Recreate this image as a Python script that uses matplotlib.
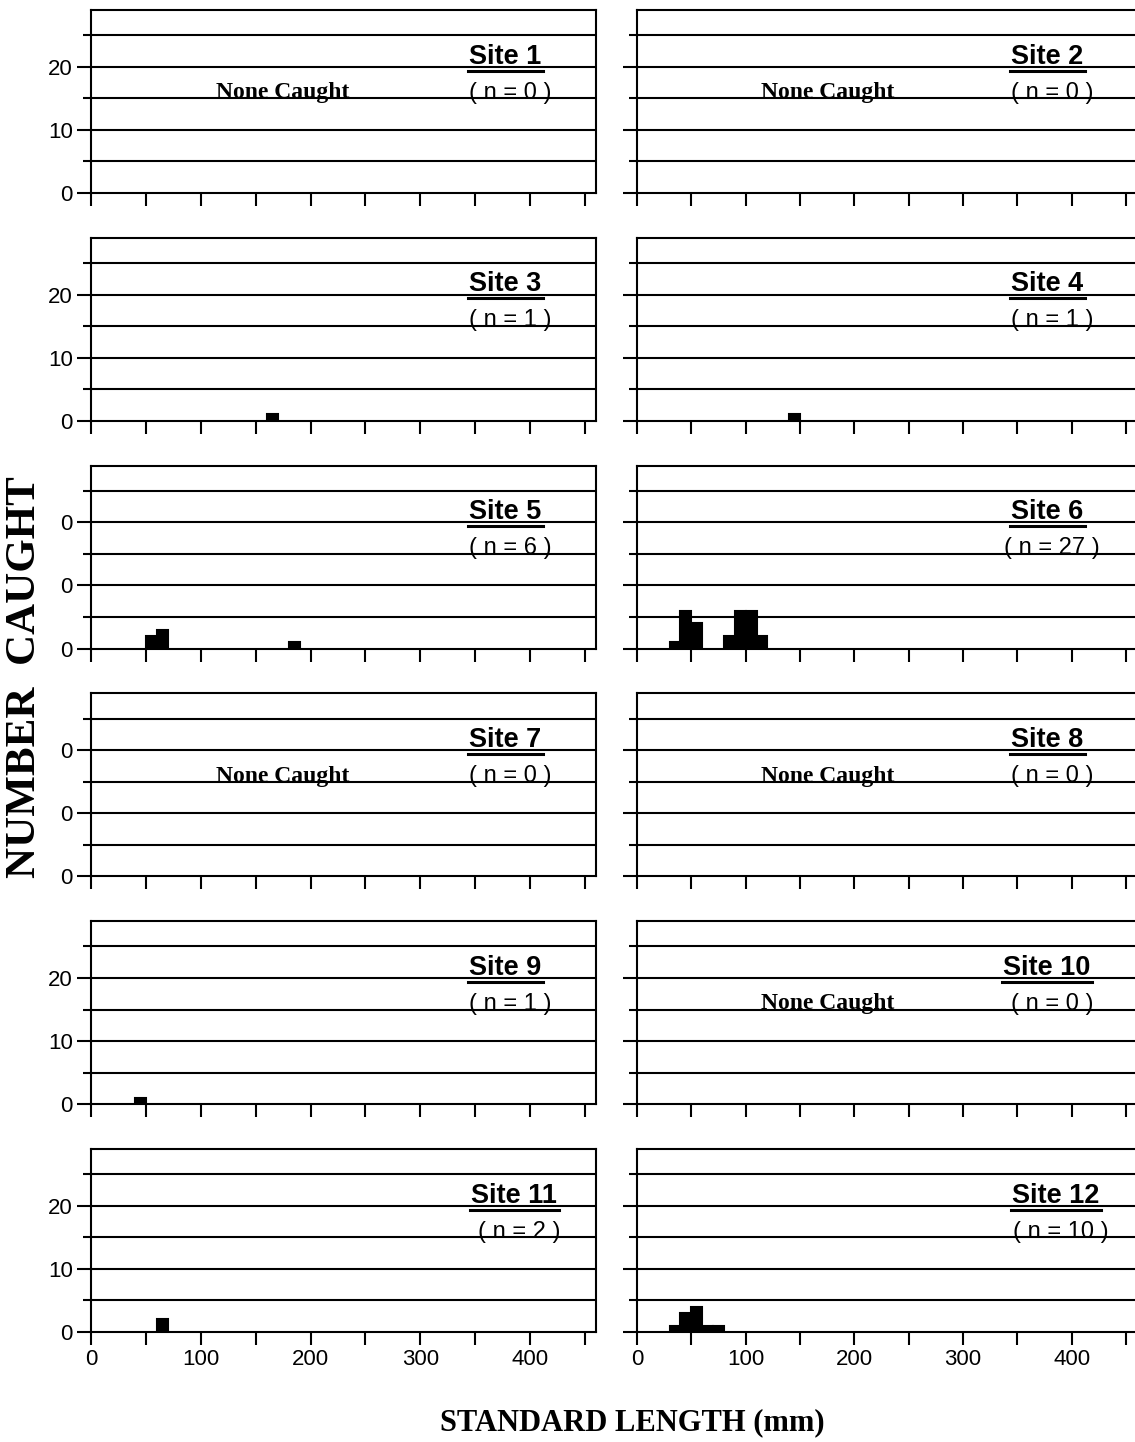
import matplotlib
matplotlib.use('Agg')
import matplotlib.pyplot as plt
from matplotlib.lines import Line2D

# length-frequency data, 10 mm bins (left edge of each bin)
site_ids = [1, 2, 3, 4, 5, 6, 7, 8, 9, 10, 11, 12]
n_caught = [0, 0, 1, 1, 6, 27, 0, 0, 1, 0, 2, 10]
bin_left = [[], [], [160], [140], [50, 60, 180],
            [30, 40, 50, 80, 90, 100, 110],
            [], [], [40], [], [60], [30, 40, 50, 60, 70]]
bin_count = [[], [], [1], [1], [2, 3, 1],
             [1, 6, 4, 2, 6, 6, 2],
             [], [], [1], [], [2], [1, 3, 4, 1, 1]]
bin_width = 10
ytick_vals = [0, 10, 20]
ytick_text = ['0', '10', '20']
ytick_text_mid = ['0', '0', '0']   # rows 3 and 4 print only zeros
xtick_vals = [0, 100, 200, 300, 400]

SANS = 'Liberation Sans'
SERIF = 'Liberation Serif'

W, H = 1135, 1442
fig = plt.figure(figsize=(W / 100, H / 100), dpi=100)

titles = []
for i, site in enumerate(site_ids):
    row, col = divmod(i, 2)
    top = 10 + row * 227.8
    x0, x1 = (91, 596) if col == 0 else (637, 1137)
    ax = fig.add_axes([x0 / W, 1 - (top + 183) / H, (x1 - x0) / W, 183 / H])
    ax.set_xlim(0, 460)
    ax.set_ylim(0, 29)

    for y in [5, 10, 15, 20, 25]:
        ax.axhline(y, color='k', lw=1.5, zorder=1)

    if bin_left[i]:
        ax.bar(bin_left[i], bin_count[i], width=bin_width, align='edge',
               color='k', edgecolor='k', lw=1.5, zorder=3)

    for s in ax.spines.values():
        s.set_linewidth(1.5)

    ax.set_yticks(ytick_vals)
    ax.set_yticks([5, 15, 25], minor=True)
    if col == 0:
        ax.set_yticklabels(ytick_text_mid if row in (2, 3) else ytick_text)
    else:
        ax.set_yticklabels([])
    ax.set_xticks(xtick_vals)
    ax.set_xticks([50, 150, 250, 350, 450], minor=True)
    if row == 5:
        ax.set_xticklabels([str(v) for v in xtick_vals])
    else:
        ax.set_xticklabels([])
    ax.tick_params(axis='both', which='both', direction='out', width=1.5,
                   labelsize=16, pad=3)
    ax.tick_params(axis='y', which='major', length=10)
    ax.tick_params(axis='y', which='minor', length=6)
    ax.tick_params(axis='x', which='both', length=9)
    for lab in ax.get_xticklabels() + ax.get_yticklabels():
        lab.set_fontfamily(SANS)

    tx = 385 if site >= 11 else 377
    t = ax.text(tx, 21.6, f'Site {site}', fontfamily=SANS, fontweight='bold',
                fontsize=19.5, ha='center', va='center', zorder=5)
    titles.append(t)
    ax.text(tx + 5, 15.9, f'( n = {n_caught[i]} )', fontfamily=SANS,
            fontsize=17, ha='center', va='center', zorder=5)
    if n_caught[i] == 0:
        ax.text(175, 15.9, 'None Caught', fontfamily=SERIF, fontweight='bold',
                fontsize=17, ha='center', va='center', zorder=5)

# underline the site titles
fig.canvas.draw()
r = fig.canvas.get_renderer()
for t in titles:
    bb = t.get_window_extent(r)
    yl = (bb.y0 - 1) / H
    fig.add_artist(Line2D([(bb.x0 - 1) / W, (bb.x1 + 2) / W], [yl, yl],
                          color='k', lw=2.2))

fig.text(25 / W, 1 - 677 / H, 'NUMBER  CAUGHT', rotation=90,
         fontfamily=SERIF, fontweight='bold', fontsize=31,
         ha='center', va='center')
fig.text(632 / W, 1 - 1423 / H, 'STANDARD LENGTH (mm)',
         fontfamily=SERIF, fontweight='bold', fontsize=22,
         ha='center', va='center')

fig.savefig('out.png', dpi=100)
